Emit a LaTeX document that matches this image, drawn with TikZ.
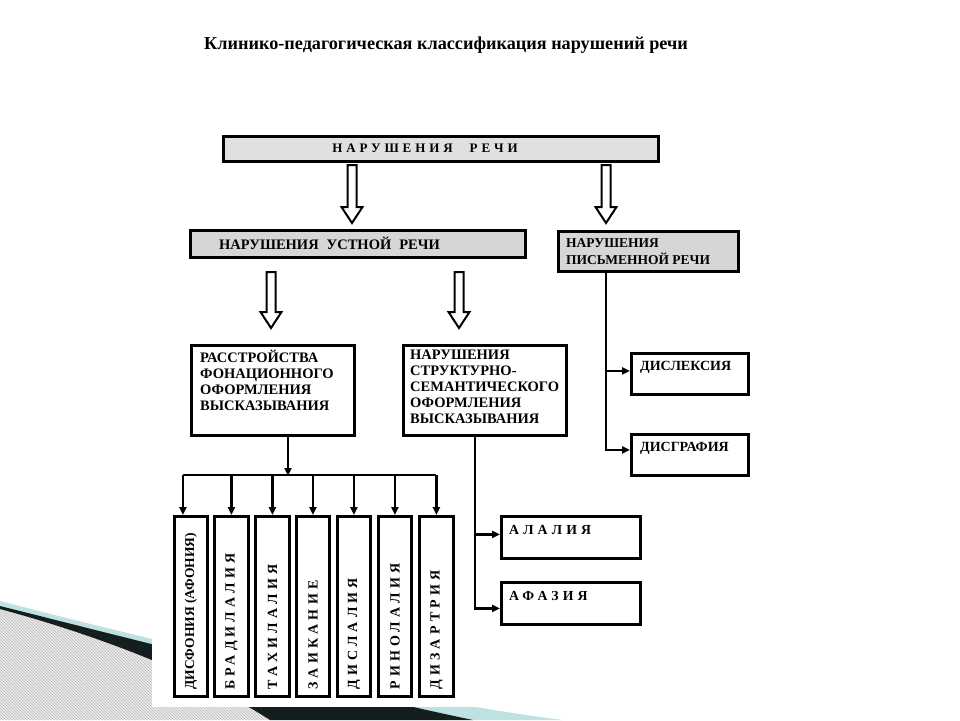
\documentclass[tikz,border=0pt]{standalone}
\usepackage{fontspec}
\setmainfont{Liberation Serif}
\newfontfamily\spc[LetterSpace=30]{Liberation Serif}
\usetikzlibrary{patterns,arrows.meta,calc}
\definecolor{boxgray}{RGB}{214,214,214}
\definecolor{topgray}{RGB}{224,224,224}
\definecolor{hatchbg}{RGB}{236,236,236}
\definecolor{swoosh}{RGB}{20,30,30}
\definecolor{glow}{RGB}{190,225,225}
\begin{document}
\begin{tikzpicture}[x=1pt,y=-1pt,
  box/.style={draw=black, line width=2.9pt, inner sep=0pt, anchor=north west},
  gbox/.style={box, fill=boxgray},
  lbl/.style={anchor=north west, inner sep=0pt, align=left, font=\bfseries\fontsize{14.5}{16}\selectfont},
  wlbl/.style={anchor=west, inner sep=0pt, font=\bfseries\fontsize{14}{16}\selectfont},
  slbl/.style={anchor=west, inner sep=0pt, font=\bfseries\spc\fontsize{13.8}{16}\selectfont},
  vtxt/.style={rotate=90, anchor=west, inner sep=0pt, font=\bfseries\fontsize{13.5}{15}\selectfont},
  vstxt/.style={vtxt, font=\bfseries\spc\fontsize{14}{15}\selectfont},
  conn/.style={line width=2.3pt},
  arr/.style={conn, -{Triangle[length=8pt,width=7pt]}},
  harrow/.style={draw=black, line width=2pt, fill=white, line join=miter}
]
\useasboundingbox (0,0) rectangle (960,720);
% slide decoration (bottom left)
\fill[hatchbg] (0,609) .. controls (100,636) and (200,675) .. (270,720) -- (0,720) -- cycle;
\fill[pattern=north west lines, pattern color=gray!55] (0,609) .. controls (100,636) and (200,675) .. (270,720) -- (0,720) -- cycle;
\fill[glow] (0,601) .. controls (150,640) and (400,700) .. (563,720) -- (473,720) .. controls (330,690) and (120,636) .. (0,606) -- cycle;
\fill[swoosh] (0,606) .. controls (120,636) and (330,690) .. (473,720) -- (270,720) .. controls (200,675) and (100,636) .. (0,609) -- cycle;
\fill[white] (152,0) rectangle (960,707);

% title
\node[inner sep=0pt, font=\bfseries\fontsize{18.2}{20}\selectfont] (title) at (446,45) {Клинико-педагогическая классификация нарушений речи};

% boxes
\node[box, fill=topgray, minimum width=435pt, minimum height=25pt] (top) at (222,135) {};
\node[inner sep=0pt, font=\bfseries\spc\fontsize{13}{14}\selectfont] (toplbl) at (425,148) {НАРУШЕНИЯ\hspace{17pt}РЕЧИ};

\node[gbox, minimum width=335pt, minimum height=27pt] (ustn) at (189,229) {};
\node[wlbl, font=\bfseries\fontsize{14.5}{16}\selectfont] (ustnlbl) at (219,243) {НАРУШЕНИЯ\hspace{8pt}УСТНОЙ\hspace{8pt}РЕЧИ};

\node[gbox, minimum width=180pt, minimum height=40pt] (pism) at (557,230) {};
\node[lbl, font=\bfseries\fontsize{13.5}{17}\selectfont] (pismlbl) at (566,238) {НАРУШЕНИЯ\\ПИСЬМЕННОЙ РЕЧИ};

\node[box, minimum width=163pt, minimum height=90pt] (rass) at (190,344) {};
\node[lbl] (rasslbl) at (200,350) {РАССТРОЙСТВА\\ФОНАЦИОННОГО\\ОФОРМЛЕНИЯ\\ВЫСКАЗЫВАНИЯ};

\node[box, minimum width=163pt, minimum height=90pt] (struct) at (402,344) {};
\node[lbl] (structlbl) at (410,350) {НАРУШЕНИЯ\\СТРУКТУРНО-\\СЕМАНТИЧЕСКОГО\\ОФОРМЛЕНИЯ\\ВЫСКАЗЫВАНИЯ};

\node[box, minimum width=117pt, minimum height=41pt] (disl) at (630,352) {};
\node[wlbl] (disllbl) at (640,367) {ДИСЛЕКСИЯ};
\node[box, minimum width=117pt, minimum height=41pt] (disg) at (630,433) {};
\node[wlbl] (disglbl) at (640,448) {ДИСГРАФИЯ};

\node[box, minimum width=139pt, minimum height=42pt] (alal) at (500,515) {};
\node[slbl] (alallbl) at (509,530) {АЛАЛИЯ};
\node[box, minimum width=139pt, minimum height=42pt] (afaz) at (500,581) {};
\node[slbl] (afazlbl) at (509,596) {АФАЗИЯ};

% vertical boxes
\node[box, minimum width=33pt, minimum height=180pt] (v1) at (173,515) {};
\node[box, minimum width=34pt, minimum height=180pt] (v2) at (213,515) {};
\node[box, minimum width=34pt, minimum height=180pt] (v3) at (254,515) {};
\node[box, minimum width=33pt, minimum height=180pt] (v4) at (295,515) {};
\node[box, minimum width=33pt, minimum height=180pt] (v5) at (336,515) {};
\node[box, minimum width=33pt, minimum height=180pt] (v6) at (377,515) {};
\node[box, minimum width=34pt, minimum height=180pt] (v7) at (418,515) {};
\node[vtxt] (t1) at ($(v1.south)+(0,-8)$) {ДИСФОНИЯ (АФОНИЯ)};
\node[vstxt] (t2) at ($(v2.south)+(0,-8)$) {БРАДИЛАЛИЯ};
\node[vstxt] (t3) at ($(v3.south)+(0,-8)$) {ТАХИЛАЛИЯ};
\node[vstxt] (t4) at ($(v4.south)+(0,-8)$) {ЗАИКАНИЕ};
\node[vstxt] (t5) at ($(v5.south)+(0,-8)$) {ДИСЛАЛИЯ};
\node[vstxt] (t6) at ($(v6.south)+(0,-8)$) {РИНОЛАЛИЯ};
\node[vstxt] (t7) at ($(v7.south)+(0,-8)$) {ДИЗАРТРИЯ};

% hollow arrows
\foreach \ax/\ay/\al in {352/165/58, 606/165/58, 271/272/56, 459/272/56}{
  \draw[harrow] (\ax-4.5,\ay) -- (\ax+4.5,\ay) -- (\ax+4.5,\ay+\al-16) -- (\ax+10.5,\ay+\al-16)
     -- (\ax,\ay+\al) -- (\ax-10.5,\ay+\al-16) -- (\ax-4.5,\ay+\al-16) -- cycle;
}

% connectors: written speech
\coordinate (pj) at (606,448);
\draw[conn] (pism.south -| pj) -- (pj);
\draw[arr] (pism.south -| pj) |- ([yshift=3pt]disl.west);
\draw[arr] (pism.south -| pj) |- ([yshift=5pt]disg.west);

% connectors: structural-semantic
\coordinate (sj) at (475,607);
\draw[arr] (struct.south -| sj) |- ([yshift=3pt]alal.west);
\draw[arr] (struct.south -| sj) |- ([yshift=-5pt]afaz.west);

% connectors: phonation
\coordinate (rj) at (288,475);
\draw[arr] (rass.south -| rj) -- ([yshift=-1pt]rj);
\coordinate (hb) at (0,475);
\draw[conn] ([xshift=-8pt]v1.north |- hb) -- (v7.north |- hb);
\draw[arr] ([xshift=-8pt]v1.north |- hb) -- ([xshift=-8pt]v1.north);
\foreach \v in {v2,v3,v4,v5,v6,v7}{
  \draw[arr] (\v.north |- hb) -- (\v.north);
}
\end{tikzpicture}
\end{document}
